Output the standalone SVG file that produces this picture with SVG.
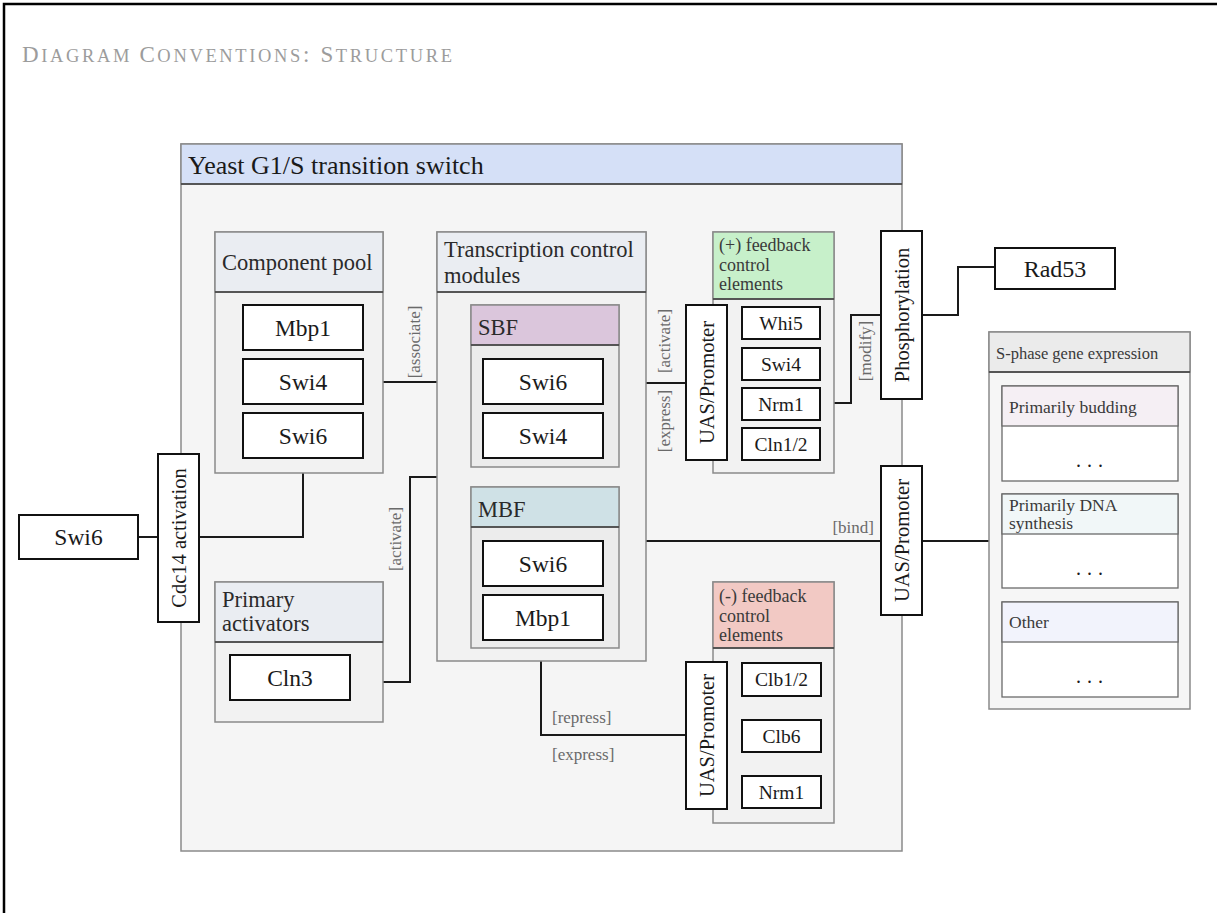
<svg xmlns="http://www.w3.org/2000/svg" width="1217" height="913" viewBox="0 0 1217 913">
  <style>
    .frame { fill: none; stroke: #000; stroke-width: 2.5; }
    .body { fill: #f2f2f2; stroke: #8a8a8a; stroke-width: 1.5; }
    .inner { fill: #ececec; stroke: #8a8a8a; stroke-width: 1.5; }
    .sep { stroke: #3c3c3c; stroke-width: 1.3; }
    .box { fill: #fff; stroke: #111; stroke-width: 2; }
    text { font-family: "Liberation Serif", "Times New Roman", serif; }
    .lbl { fill: #1a1a1a; text-anchor: middle; }
    .big { font-size: 23.5px; }
    .small { font-size: 19.5px; }
    .rot { font-size: 20.5px; }
    .hdr { fill: #2a2a2a; font-size: 22.5px; }
    .fb { fill: #3a3a3a; font-size: 18px; }
    .sp { fill: #3a3a3a; font-size: 16.5px; }
    .sub { fill: #3a3a3a; font-size: 17.5px; }
    .edge { fill: none; stroke: #1a1a1a; stroke-width: 2; }
    .elbl { fill: #6a6a6a; font-size: 17px; }
    .dots { fill: #1a1a1a; font-size: 20px; letter-spacing: 6px; }
  </style>

  <!-- page frame -->
  <rect class="frame" x="4" y="4" width="1300" height="1000"/>

  <!-- heading in small capitals -->
  <text x="22" y="62" fill="#9c9c9c" textLength="430" lengthAdjust="spacing"><tspan font-size="23">D</tspan><tspan font-size="18.5">IAGRAM </tspan><tspan font-size="23">C</tspan><tspan font-size="18.5">ONVENTIONS</tspan><tspan font-size="23">: S</tspan><tspan font-size="18.5">TRUCTURE</tspan></text>

  <!-- outer module -->
  <g id="g1s-switch">
    <rect x="181" y="144" width="721" height="707" fill="#f5f5f5" stroke="#8a8a8a" stroke-width="1.5"/>
    <rect x="181" y="144" width="721" height="40" fill="#d5e0f7" stroke="#8a8a8a" stroke-width="1.5"/>
    <line class="sep" x1="181" y1="184" x2="902" y2="184"/>
    <text x="188" y="174" font-size="26" fill="#1a1a1a">Yeast G1/S transition switch</text>
  </g>

  <!-- connectors -->
  <g id="connectors">
    <path class="edge" d="M138,537 H158"/>
    <path class="edge" d="M199,537 H303 V458"/>
    <path class="edge" d="M383,382 H437"/>
    <path class="edge" d="M383,682 H410 V477 H437"/>
    <path class="edge" d="M646,383 H686"/>
    <path class="edge" d="M820,403 H851 V315 H881"/>
    <path class="edge" d="M922,315 H958 V267 H995"/>
    <path class="edge" d="M646,541 H881"/>
    <path class="edge" d="M922,541 H989"/>
    <path class="edge" d="M541,661 V735 H686"/>
    <text class="elbl" text-anchor="middle" dy=".35em" transform="translate(414,342) rotate(-90)">[associate]</text>
    <text class="elbl" text-anchor="middle" dy=".35em" transform="translate(395,539) rotate(-90)">[activate]</text>
    <text class="elbl" text-anchor="middle" dy=".35em" transform="translate(664,341) rotate(-90)">[activate]</text>
    <text class="elbl" text-anchor="middle" dy=".35em" transform="translate(664,421) rotate(-90)">[express]</text>
    <text class="elbl" text-anchor="middle" dy=".35em" transform="translate(865,351) rotate(-90)">[modify]</text>
    <text class="elbl" text-anchor="end" x="874" y="533">[bind]</text>
    <text class="elbl" x="552" y="723">[repress]</text>
    <text class="elbl" x="552" y="760">[express]</text>
  </g>

  <!-- component pool -->
  <g id="component-pool">
    <rect class="body" x="215" y="232" width="168" height="241"/>
    <rect x="215" y="232" width="168" height="60" fill="#eaedf2" stroke="#8a8a8a" stroke-width="1.5"/>
    <line class="sep" x1="215" y1="292" x2="383" y2="292"/>
    <text class="hdr" x="222" y="270">Component pool</text>
  </g>
  <g id="pool-mbp1"><rect class="box" x="243" y="305" width="120" height="45"/><text class="lbl big" x="303" y="335.5">Mbp1</text></g>
  <g id="pool-swi4"><rect class="box" x="243" y="359" width="120" height="45"/><text class="lbl big" x="303" y="389.5">Swi4</text></g>
  <g id="pool-swi6"><rect class="box" x="243" y="413" width="120" height="45"/><text class="lbl big" x="303" y="443.5">Swi6</text></g>

  <!-- transcription control modules -->
  <g id="tcm">
    <rect class="body" x="437" y="232" width="209" height="429"/>
    <rect x="437" y="232" width="209" height="60" fill="#eaedf2" stroke="#8a8a8a" stroke-width="1.5"/>
    <line class="sep" x1="437" y1="292" x2="646" y2="292"/>
    <text class="hdr" x="444" y="257">Transcription control</text>
    <text class="hdr" x="444" y="283">modules</text>
  </g>
  <g id="sbf">
    <rect class="inner" x="471" y="305" width="148" height="162"/>
    <rect x="471" y="305" width="148" height="40" fill="#dbc6dc" stroke="#8a8a8a" stroke-width="1.5"/>
    <line class="sep" x1="471" y1="345" x2="619" y2="345"/>
    <text class="hdr" x="478" y="335" font-size="24.5">SBF</text>
  </g>
  <g id="sbf-swi6"><rect class="box" x="483" y="359" width="120" height="45"/><text class="lbl big" x="543" y="389.5">Swi6</text></g>
  <g id="sbf-swi4"><rect class="box" x="483" y="413" width="120" height="45"/><text class="lbl big" x="543" y="443.5">Swi4</text></g>
  <g id="mbf">
    <rect class="inner" x="471" y="487" width="148" height="161"/>
    <rect x="471" y="487" width="148" height="40" fill="#cfe1e6" stroke="#8a8a8a" stroke-width="1.5"/>
    <line class="sep" x1="471" y1="527" x2="619" y2="527"/>
    <text class="hdr" x="478" y="517" font-size="24.5">MBF</text>
  </g>
  <g id="mbf-swi6"><rect class="box" x="483" y="541" width="120" height="45"/><text class="lbl big" x="543" y="571.5">Swi6</text></g>
  <g id="mbf-mbp1"><rect class="box" x="483" y="595" width="120" height="45"/><text class="lbl big" x="543" y="625.5">Mbp1</text></g>

  <!-- primary activators -->
  <g id="primary-activators">
    <rect class="body" x="215" y="582" width="168" height="140"/>
    <rect x="215" y="582" width="168" height="60" fill="#eaedf2" stroke="#8a8a8a" stroke-width="1.5"/>
    <line class="sep" x1="215" y1="642" x2="383" y2="642"/>
    <text class="hdr" x="222" y="607">Primary</text>
    <text class="hdr" x="222" y="631">activators</text>
  </g>
  <g id="cln3"><rect class="box" x="230" y="655" width="120" height="45"/><text class="lbl big" x="290" y="685.5">Cln3</text></g>

  <!-- positive feedback elements -->
  <g id="pos-feedback">
    <rect class="body" x="713" y="232" width="121" height="241"/>
    <rect x="713" y="232" width="121" height="67" fill="#c7f0ca" stroke="#8a8a8a" stroke-width="1.5"/>
    <line class="sep" x1="713" y1="299" x2="834" y2="299"/>
    <text class="fb" x="719" y="251">(+) feedback</text>
    <text class="fb" x="719" y="270.5">control</text>
    <text class="fb" x="719" y="290">elements</text>
  </g>
  <g id="pos-whi5"><rect class="box" x="742" y="307" width="78" height="32"/><text class="lbl small" x="781" y="329.5">Whi5</text></g>
  <g id="pos-swi4"><rect class="box" x="742" y="348" width="78" height="32"/><text class="lbl small" x="781" y="370.5">Swi4</text></g>
  <g id="pos-nrm1"><rect class="box" x="742" y="388" width="78" height="32"/><text class="lbl small" x="781" y="410.5">Nrm1</text></g>
  <g id="pos-cln12"><rect class="box" x="742" y="428" width="78" height="32"/><text class="lbl small" x="781" y="450.5">Cln1/2</text></g>
  <g id="pos-uas"><rect class="box" x="686" y="305" width="41" height="155"/><text class="lbl rot" dy=".35em" transform="translate(706.5,382.5) rotate(-90)">UAS/Promoter</text></g>

  <!-- negative feedback elements -->
  <g id="neg-feedback">
    <rect class="body" x="713" y="582" width="121" height="241"/>
    <rect x="713" y="582" width="121" height="66" fill="#f2c9c4" stroke="#8a8a8a" stroke-width="1.5"/>
    <line class="sep" x1="713" y1="648" x2="834" y2="648"/>
    <text class="fb" x="719" y="602">(-) feedback</text>
    <text class="fb" x="719" y="621.5">control</text>
    <text class="fb" x="719" y="641">elements</text>
  </g>
  <g id="neg-clb12"><rect class="box" x="742" y="663" width="79" height="33"/><text class="lbl small" x="781.5" y="686">Clb1/2</text></g>
  <g id="neg-clb6"><rect class="box" x="742" y="720" width="79" height="32"/><text class="lbl small" x="781.5" y="742.5">Clb6</text></g>
  <g id="neg-nrm1"><rect class="box" x="742" y="776" width="79" height="32"/><text class="lbl small" x="781.5" y="798.5">Nrm1</text></g>
  <g id="neg-uas"><rect class="box" x="686" y="662" width="41" height="147"/><text class="lbl rot" dy=".35em" transform="translate(706.5,735.5) rotate(-90)">UAS/Promoter</text></g>

  <!-- boundary elements -->
  <g id="phosphorylation"><rect class="box" x="881" y="231" width="41" height="168"/><text class="lbl rot" dy=".35em" transform="translate(901.5,315) rotate(-90)">Phosphorylation</text></g>
  <g id="bind-uas"><rect class="box" x="881" y="466" width="41" height="149"/><text class="lbl rot" dy=".35em" transform="translate(901.5,540.5) rotate(-90)">UAS/Promoter</text></g>
  <g id="cdc14"><rect class="box" x="158" y="454" width="41" height="168"/><text class="lbl rot" dy=".35em" transform="translate(178.5,538) rotate(-90)">Cdc14 activation</text></g>

  <!-- external entities -->
  <g id="swi6-free"><rect class="box" x="19" y="515" width="119" height="44"/><text class="lbl big" x="78.5" y="545">Swi6</text></g>
  <g id="rad53"><rect class="box" x="995" y="248" width="120" height="41"/><text class="lbl" x="1055" y="277" font-size="24">Rad53</text></g>

  <!-- S-phase gene expression -->
  <g id="s-phase">
    <rect x="989" y="332" width="201" height="377" fill="#f6f6f6" stroke="#8a8a8a" stroke-width="1.5"/>
    <rect x="989" y="332" width="201" height="40" fill="#ebebeb" stroke="#8a8a8a" stroke-width="1.5"/>
    <line class="sep" x1="989" y1="372" x2="1190" y2="372"/>
    <text class="sp" x="996" y="359">S-phase gene expression</text>
  </g>
  <g id="s-budding">
    <rect x="1002" y="386" width="176" height="95" fill="#fff" stroke="#6a6a6a" stroke-width="1.3"/>
    <rect x="1002" y="386" width="176" height="40" fill="#f5eff4" stroke="#6a6a6a" stroke-width="1.3"/>
    <text class="sub" x="1009" y="413">Primarily budding</text>
    <text class="dots" x="1076" y="467">...</text>
  </g>
  <g id="s-dna">
    <rect x="1002" y="494" width="176" height="94" fill="#fff" stroke="#6a6a6a" stroke-width="1.3"/>
    <rect x="1002" y="494" width="176" height="40" fill="#f1f7f8" stroke="#6a6a6a" stroke-width="1.3"/>
    <text class="sub" x="1009" y="511">Primarily DNA</text>
    <text class="sub" x="1009" y="529">synthesis</text>
    <text class="dots" x="1076" y="575">...</text>
  </g>
  <g id="s-other">
    <rect x="1002" y="602" width="176" height="95" fill="#fff" stroke="#6a6a6a" stroke-width="1.3"/>
    <rect x="1002" y="602" width="176" height="40" fill="#f2f3fc" stroke="#6a6a6a" stroke-width="1.3"/>
    <text class="sub" x="1009" y="628">Other</text>
    <text class="dots" x="1076" y="683">...</text>
  </g>
</svg>
